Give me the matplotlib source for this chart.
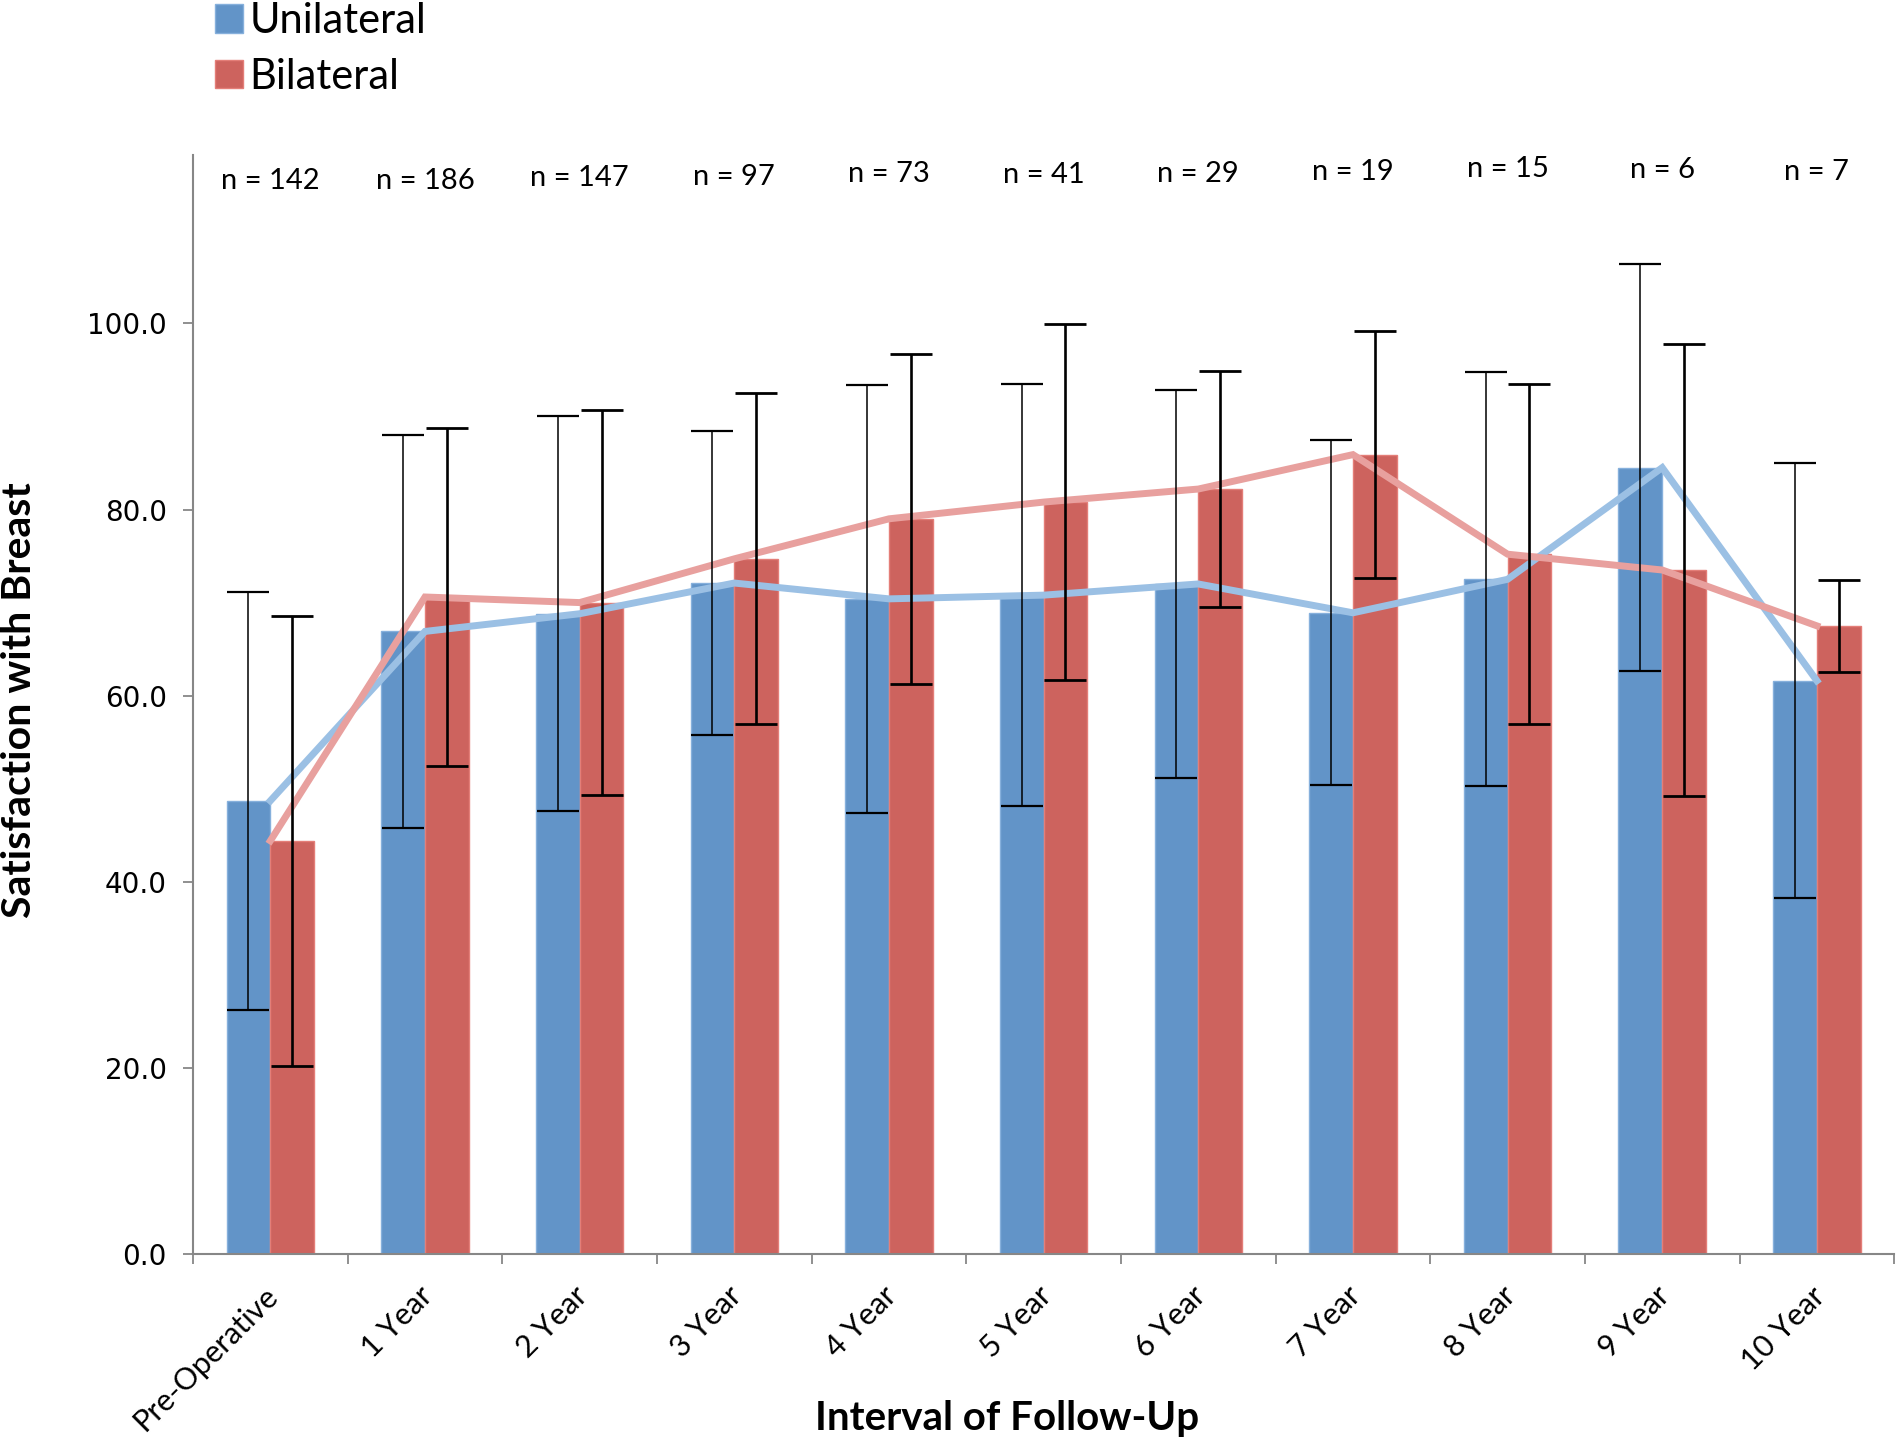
import matplotlib
matplotlib.use("Agg")
import matplotlib.pyplot as plt
import matplotlib.transforms as mtransforms
import numpy as np
from matplotlib.patches import Patch

categories = ["Pre-Operative", "1 Year", "2 Year", "3 Year", "4 Year", "5 Year",
              "6 Year", "7 Year", "8 Year", "9 Year", "10 Year"]
n_labels = ["n = 142", "n = 186", "n = 147", "n = 97", "n = 73", "n = 41",
            "n = 29", "n = 19", "n = 15", "n = 6", "n = 7"]
unilateral_mean = [48.7, 66.9, 68.8, 72.1, 70.4, 70.8, 72.0, 68.9, 72.5, 84.5, 61.6]
unilateral_sd = [22.45, 21.1, 21.2, 16.3, 23.0, 22.7, 20.8, 18.55, 22.25, 21.9, 23.4]
bilateral_mean = [44.4, 70.6, 70.0, 74.7, 79.0, 80.8, 82.2, 85.9, 75.2, 73.5, 67.5]
bilateral_sd = [24.2, 18.2, 20.7, 17.8, 17.7, 19.1, 12.7, 13.3, 18.25, 24.25, 4.95]
y_ticks = [0, 20, 40, 60, 80, 100]

# layout: vertical placement of the "n =" annotations (data units)
n_label_y = [115.25, 115.35, 115.65, 115.75, 116.05, 115.95, 116.05, 116.25, 116.55, 116.45, 116.25]

BLUE = "#6294C8"
RED = "#CD635E"
BLUE_LINE = "#9BC0E4"
RED_LINE = "#E8A09E"

fig = plt.figure(figsize=(18.98, 14.43), dpi=100)
ax = fig.add_axes([0.1017, 0.131, 0.8963, 0.7616])

x = np.arange(len(categories))
w = 0.283

ax.bar(x - w / 2, unilateral_mean, w, color=BLUE, edgecolor="#86B0DC", linewidth=1.0, zorder=2)
ax.bar(x + w / 2, bilateral_mean, w, color=RED, edgecolor="#E47E78", linewidth=1.0, zorder=2)

ax.plot(x, unilateral_mean, color=BLUE_LINE, lw=5, zorder=3, solid_joinstyle="miter")
ax.plot(x, bilateral_mean, color=RED_LINE, lw=5, zorder=3, solid_joinstyle="miter")

ax.errorbar(x - w / 2, unilateral_mean, yerr=unilateral_sd, fmt="none", ecolor="black",
            elinewidth=1.1, capsize=15, capthick=1.6, zorder=4)
ax.errorbar(x + w / 2, bilateral_mean, yerr=bilateral_sd, fmt="none", ecolor="black",
            elinewidth=1.9, capsize=15, capthick=2.0, zorder=4)

for xi, yi, lab in zip(x, n_label_y, n_labels):
    ax.text(xi, yi, lab, ha="center", va="center", fontsize=21, family="Lato")

ax.set_xlim(-0.5, len(categories) - 0.5)
ax.set_ylim(0, 118.1)
ax.set_yticks(y_ticks)
ax.set_yticklabels([f"{v:.1f}" for v in y_ticks], fontsize=20, family="DejaVu Sans")

ax.set_xticks(x)
ax.set_xticklabels(categories, rotation=45, ha="right", fontsize=22, family="Lato")
ax.set_xticks(np.arange(len(categories) + 1) - 0.5, minor=True)
ax.tick_params(axis="x", which="major", length=0, pad=20)
ax.tick_params(axis="x", which="minor", length=7, width=1.3, color="#878787", direction="out")
ax.tick_params(axis="y", length=7, width=1.3, color="#878787", direction="out", pad=12)

shift = mtransforms.ScaledTranslation(0.13, 0, fig.dpi_scale_trans)
for lbl in ax.get_xticklabels():
    lbl.set_transform(lbl.get_transform() + shift)

for s in ["top", "right"]:
    ax.spines[s].set_visible(False)
for s in ["left", "bottom"]:
    ax.spines[s].set_color("#878787")
    ax.spines[s].set_linewidth(1.5)

ax.set_ylabel("Satisfaction with Breast", fontsize=29.5, fontweight="bold", family="Lato")
ax.yaxis.set_label_coords(-0.1018, 0.504)
ax.yaxis.label.set_va("center")
ax.set_xlabel("Interval of Follow-Up", fontsize=29, fontweight="bold", family="Lato")
ax.xaxis.set_label_coords(0.4786, -0.150)
ax.xaxis.label.set_va("center")

handles = [Patch(facecolor=BLUE, edgecolor="#86B0DC"), Patch(facecolor=RED, edgecolor="#E47E78")]
fig.legend(handles, ["Unilateral", "Bilateral"], loc="upper left", bbox_to_anchor=(0.1045, 1.010),
           frameon=False, prop={"family": "Lato", "size": 30},
           handlelength=0.68, handleheight=0.68, handletextpad=0.14, labelspacing=0.42,
           borderaxespad=0)

fig.savefig("out.png", dpi=100)
